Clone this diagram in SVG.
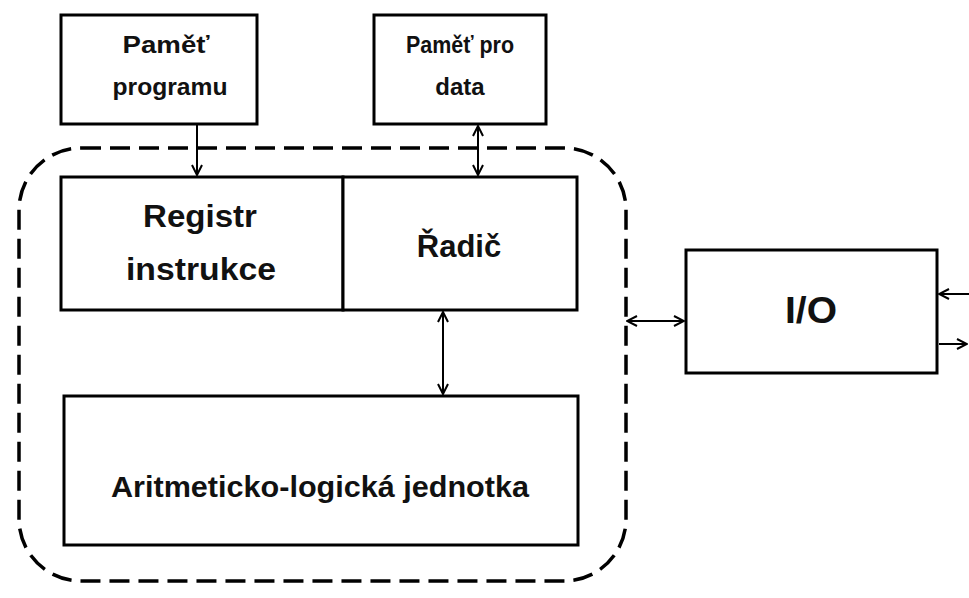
<svg xmlns="http://www.w3.org/2000/svg" width="969" height="598" viewBox="0 0 969 598">
<style>
.box{fill:#fff;stroke:#000;stroke-width:3}
.t{font-family:"Liberation Sans",Arial,sans-serif;font-weight:bold;fill:#111;text-anchor:middle}
.c{stroke:#000;stroke-width:2;fill:none}
</style>
<defs>
<marker id="ah" viewBox="0 0 12 12" refX="11" refY="6" markerWidth="12" markerHeight="12" markerUnits="userSpaceOnUse" orient="auto-start-reverse">
<path d="M1,1 L11,6 L1,11" fill="none" stroke="#000" stroke-width="2"/>
</marker>
</defs>
<rect width="969" height="598" fill="#fff"/>
<g id="cpu-boundary">
<rect x="19" y="148" width="607" height="433" rx="62" ry="62" fill="none" stroke="#000" stroke-width="3.5" stroke-dasharray="20,9"/>
</g>
<g id="pamet-programu">
<rect class="box" x="61" y="15" width="196" height="109"/>
<text class="t" x="166" y="53" font-size="24" textLength="87" lengthAdjust="spacingAndGlyphs">Paměť</text>
<text class="t" x="170" y="95" font-size="24" textLength="115" lengthAdjust="spacingAndGlyphs">programu</text>
</g>
<g id="pamet-data">
<rect class="box" x="374" y="15" width="172" height="109"/>
<text class="t" x="460" y="53" font-size="24" textLength="108" lengthAdjust="spacingAndGlyphs">Paměť pro</text>
<text class="t" x="460" y="95" font-size="24">data</text>
</g>
<g id="registr">
<rect class="box" x="61" y="177" width="282" height="133"/>
<text class="t" x="200" y="227" font-size="31" textLength="114" lengthAdjust="spacingAndGlyphs">Registr</text>
<text class="t" x="201" y="280" font-size="31" textLength="150" lengthAdjust="spacingAndGlyphs">instrukce</text>
</g>
<g id="radic">
<rect class="box" x="343" y="177" width="234" height="133"/>
<text class="t" x="459" y="257" font-size="31">Řadič</text>
</g>
<g id="alu">
<rect class="box" x="64" y="396" width="514" height="149"/>
<text class="t" x="320" y="497" font-size="30" textLength="418" lengthAdjust="spacingAndGlyphs">Aritmeticko-logická jednotka</text>
</g>
<g id="io">
<rect class="box" x="686" y="250" width="251" height="123"/>
<text class="t" x="811" y="323" font-size="37" textLength="52" lengthAdjust="spacingAndGlyphs">I/O</text>
</g>
<g id="connectors">
<line class="c" x1="197" y1="125" x2="197" y2="175" marker-end="url(#ah)"/>
<line class="c" x1="478" y1="126" x2="478" y2="175" marker-start="url(#ah)" marker-end="url(#ah)"/>
<line class="c" x1="443" y1="312" x2="443" y2="394" marker-start="url(#ah)" marker-end="url(#ah)"/>
<line class="c" x1="627" y1="321" x2="684" y2="321" marker-start="url(#ah)" marker-end="url(#ah)"/>
<line class="c" x1="969" y1="294" x2="939" y2="294" marker-end="url(#ah)"/>
<line class="c" x1="939" y1="344" x2="967" y2="344" marker-end="url(#ah)"/>
</g>
</svg>
